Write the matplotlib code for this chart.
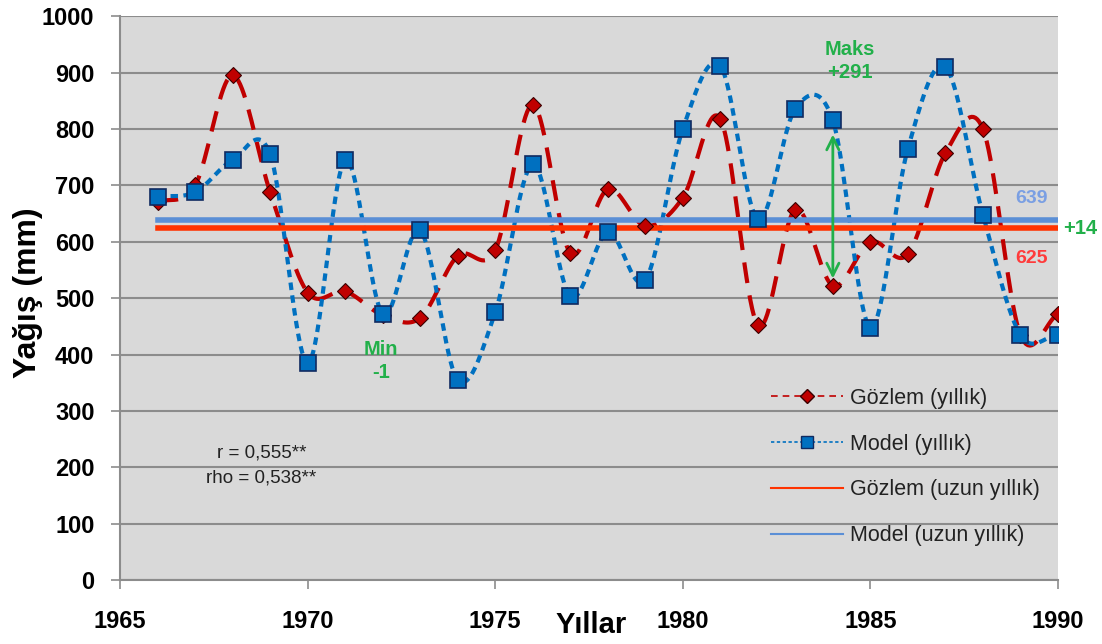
import numpy as np
import matplotlib.pyplot as plt

years = list(range(1966, 1991))
gozlem = [670, 700, 895, 688, 510, 512, 470, 465, 575, 585, 843, 580, 693, 628,
          678, 818, 452, 657, 522, 600, 578, 757, 800, 435, 472]
model = [680, 688, 745, 755, 385, 745, 472, 620, 355, 475, 737, 503, 617, 532,
         800, 912, 640, 836, 815, 448, 765, 910, 648, 435, 435]
gozlem_uzun = 625
model_uzun = 639


def smooth(x, y, n=20):
    # catmull-rom, close to excel's "smoothed line"
    x = np.asarray(x, float)
    y = np.asarray(y, float)
    px = np.concatenate([[2 * x[0] - x[1]], x, [2 * x[-1] - x[-2]]])
    py = np.concatenate([[2 * y[0] - y[1]], y, [2 * y[-1] - y[-2]]])
    xs, ys = [], []
    t = np.linspace(0, 1, n, endpoint=False)
    for i in range(1, len(px) - 2):
        for p, out in ((px, xs), (py, ys)):
            p0, p1, p2, p3 = p[i - 1], p[i], p[i + 1], p[i + 2]
            out.extend(0.5 * (2 * p1 + (-p0 + p2) * t + (2 * p0 - 5 * p1 + 4 * p2 - p3) * t ** 2
                              + (-p0 + 3 * p1 - 3 * p2 + p3) * t ** 3))
    xs.append(x[-1])
    ys.append(y[-1])
    return xs, ys


plt.rcParams['font.family'] = ['Liberation Sans', 'DejaVu Sans']

fig = plt.figure(figsize=(11.02, 6.44), dpi=100)
ax = fig.add_axes([0.109, 0.099, 0.851, 0.876])
ax.set_facecolor('#D9D9D9')

red = '#C00000'
blue = '#0070C0'

sx, sy = smooth(years, gozlem)
ax.plot(sx, sy, color=red, lw=3, dashes=(5, 3), zorder=3)
ax.plot(years, gozlem, ls='none', marker='D', ms=8, mfc=red, mec='#3a0000', mew=0.8, zorder=5)
bx, by = smooth(years, model)
ax.plot(bx, by, color=blue, lw=3, dashes=(1.8, 1.3), zorder=3)
ax.plot(years, model, ls='none', marker='s', ms=11, mfc=blue, mec='#102a60', mew=1.2, zorder=6)

ax.plot([years[0], years[-1]], [model_uzun, model_uzun], color='#5B8FD6', lw=4, zorder=4)
ax.plot([years[0], years[-1]], [gozlem_uzun, gozlem_uzun], color='#FF3300', lw=4, zorder=4)

# legend entries
h1, = ax.plot([], [], color=red, lw=1.2, dashes=(4, 3), marker='D', ms=7, mfc=red, mec='#3a0000')
h2, = ax.plot([], [], color=blue, lw=1.2, dashes=(2, 1.5), marker='s', ms=8, mfc=blue, mec='#102a60')
h3, = ax.plot([], [], color='#FF3300', lw=1.5)
h4, = ax.plot([], [], color='#5B8FD6', lw=1.5)
ax.legend([h1, h2, h3, h4],
          ['Gözlem (yıllık)', 'Model (yıllık)', 'Gözlem (uzun yıllık)', 'Model (uzun yıllık)'],
          loc='lower right', bbox_to_anchor=(0.99, 0.045), frameon=False, fontsize=15.5,
          handlelength=3.3, labelspacing=1.15, handletextpad=0.35, labelcolor='#222222',
          borderaxespad=0)

green = '#22B04A'
ax.annotate('', xy=(1984, 530), xytext=(1984, 795),
            arrowprops=dict(arrowstyle='<->', color=green, lw=2, mutation_scale=22), zorder=7)
ax.text(1984.45, 920, 'Maks\n+291', color=green, fontsize=14.5, fontweight='bold', ha='center', va='center', linespacing=1.25)
ax.text(1971.95, 388, 'Min\n-1', color=green, fontsize=14.5, fontweight='bold', ha='center', va='center', linespacing=1.25)
ax.text(1988.85, 677, '639', color='#7A9FE3', fontsize=14, fontweight='bold', ha='left', va='center')
ax.text(1988.85, 571, '625', color='#FF3B3B', fontsize=14, fontweight='bold', ha='left', va='center')
ax.text(1990.15, 624, '+14', color=green, fontsize=14.5, fontweight='bold', ha='left', va='center', clip_on=False)

ax.text(1968.77, 225, 'r = 0,555**', fontsize=13.5, ha='center', va='center', color='#222222')
ax.text(1968.77, 181, 'rho = 0,538**', fontsize=13.5, ha='center', va='center', color='#222222')

ax.set_xlim(1965, 1990)
ax.set_ylim(0, 1000)
ax.set_xticks(range(1965, 1991, 5))
ax.set_yticks(range(0, 1001, 100))
ax.yaxis.grid(True, color='#8C8C8C', lw=1.5)
ax.set_axisbelow(True)
for s in ['top', 'right']:
    ax.spines[s].set_visible(False)
ax.spines['left'].set_color('#8C8C8C')
ax.spines['bottom'].set_color('#8C8C8C')
ax.spines['left'].set_linewidth(1.5)
ax.spines['bottom'].set_linewidth(1.5)
ax.tick_params(axis='both', colors='#8C8C8C', width=1.2, length=6.5, labelcolor='black', labelsize=17)
ax.tick_params(axis='x', pad=15)
ax.tick_params(axis='y', pad=12)
for lab in ax.get_xticklabels() + ax.get_yticklabels():
    lab.set_fontweight('bold')

ax.set_ylabel('Yağış (mm)', fontsize=23, fontweight='bold')
ax.yaxis.set_label_coords(-0.082, 0.51)
ax.text(1977.55, -80, 'Yıllar', fontsize=21, fontweight='bold', ha='center', va='center', clip_on=False)

fig.savefig('out.png', dpi=100)
